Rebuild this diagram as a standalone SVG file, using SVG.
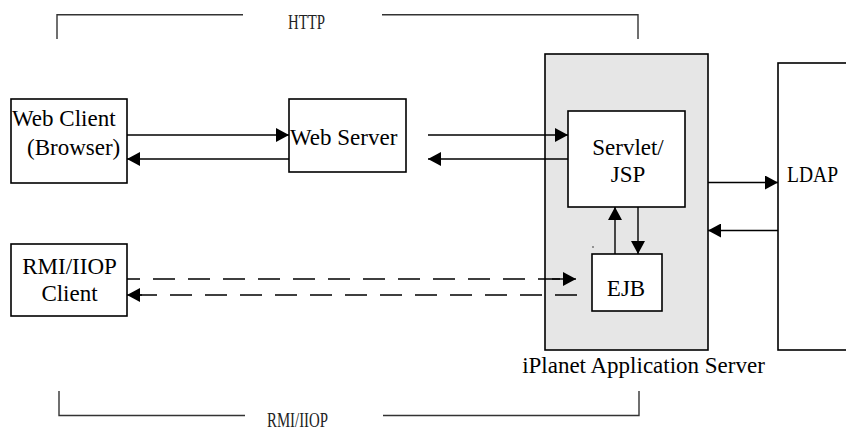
<svg xmlns="http://www.w3.org/2000/svg" width="846" height="431" viewBox="0 0 846 431">
<style>
.box{fill:#fff;stroke:#000;stroke-width:1.6}
.gray{fill:#e6e6e6;stroke:#000;stroke-width:1.6}
text{font-family:'Liberation Serif','DejaVu Serif',serif}
.t{font-size:23px;fill:#000}
.c{text-anchor:middle}
.ln{stroke:#000;stroke-width:1.4;fill:none}
.br{stroke:#333;stroke-width:1.4;fill:none}
.dash{stroke:#000;stroke-width:1.4;fill:none;stroke-dasharray:22 13}
.lab{font-size:22px;fill:#222}
</style>
<defs>
<marker id="ah" markerUnits="userSpaceOnUse" markerWidth="13" markerHeight="14" refX="13" refY="7" orient="auto">
<path d="M0,0 L13,7 L0,14 z" fill="#000"/>
</marker>
</defs>
<rect width="846" height="431" fill="#fff"/>

<g id="http-bracket">
<path class="br" d="M57,39 V14.7 H243"/>
<path class="br" d="M382,14.7 H638 V39"/>
<text class="lab" x="288" y="28.5" textLength="37" lengthAdjust="spacingAndGlyphs">HTTP</text>
</g>

<g id="rmi-bracket">
<path class="br" d="M59,391 V415.5 H245"/>
<path class="br" d="M383,415.5 H639 V391"/>
<text class="lab" x="267" y="427" textLength="61" lengthAdjust="spacingAndGlyphs">RMI/IIOP</text>
</g>

<g id="app-server">
<rect class="gray" x="545" y="54" width="163" height="296"/>
<text class="t c" x="643.5" y="373">iPlanet Application Server</text>
<circle cx="593" cy="247" r="0.7" fill="#000"/>
</g>

<g id="web-client">
<rect class="box" x="11" y="99" width="116" height="84"/>
<text class="t" x="12" y="126">Web Client</text>
<text class="t" x="27" y="155">(Browser)</text>
</g>

<g id="web-server">
<rect class="box" x="289" y="99" width="117" height="73"/>
<text class="t" x="290" y="145">Web Server</text>
</g>

<g id="servlet-jsp">
<rect class="box" x="568" y="111" width="117" height="96"/>
<text class="t c" x="628" y="155">Servlet/</text>
<text class="t c" x="628" y="182">JSP</text>
</g>

<g id="ejb">
<rect class="box" x="592" y="254" width="70" height="57"/>
<text class="t c" x="626" y="296">EJB</text>
</g>

<g id="rmi-client">
<rect class="box" x="11" y="244" width="116" height="72"/>
<text class="t c" x="69.5" y="274">RMI/IIOP</text>
<text class="t c" x="69.5" y="301">Client</text>
</g>

<g id="ldap">
<rect class="box" x="778" y="63" width="90" height="287"/>
<text class="t" x="787" y="182" textLength="51" lengthAdjust="spacingAndGlyphs">LDAP</text>
</g>

<g id="connectors">
<line class="ln" x1="127" y1="135" x2="289" y2="135" marker-end="url(#ah)"/>
<line class="ln" x1="289" y1="159" x2="127" y2="159" marker-end="url(#ah)"/>
<line class="ln" x1="428" y1="135" x2="568" y2="135" marker-end="url(#ah)"/>
<line class="ln" x1="568" y1="159" x2="428" y2="159" marker-end="url(#ah)"/>
<line class="ln" x1="708" y1="182.5" x2="778" y2="182.5" marker-end="url(#ah)"/>
<line class="ln" x1="778" y1="230.5" x2="708" y2="230.5" marker-end="url(#ah)"/>
<line class="ln" x1="615" y1="254" x2="615" y2="207" marker-end="url(#ah)"/>
<line class="ln" x1="638" y1="207" x2="638" y2="254" marker-end="url(#ah)"/>
<line class="dash" x1="127" y1="279" x2="564" y2="279" style="stroke-dashoffset:9"/>
<line class="ln" x1="552" y1="279" x2="576" y2="279" marker-end="url(#ah)"/>
<line class="dash" x1="577" y1="295" x2="138" y2="295"/>
<line class="ln" x1="142" y1="295" x2="127" y2="295" marker-end="url(#ah)"/>
</g>
</svg>
